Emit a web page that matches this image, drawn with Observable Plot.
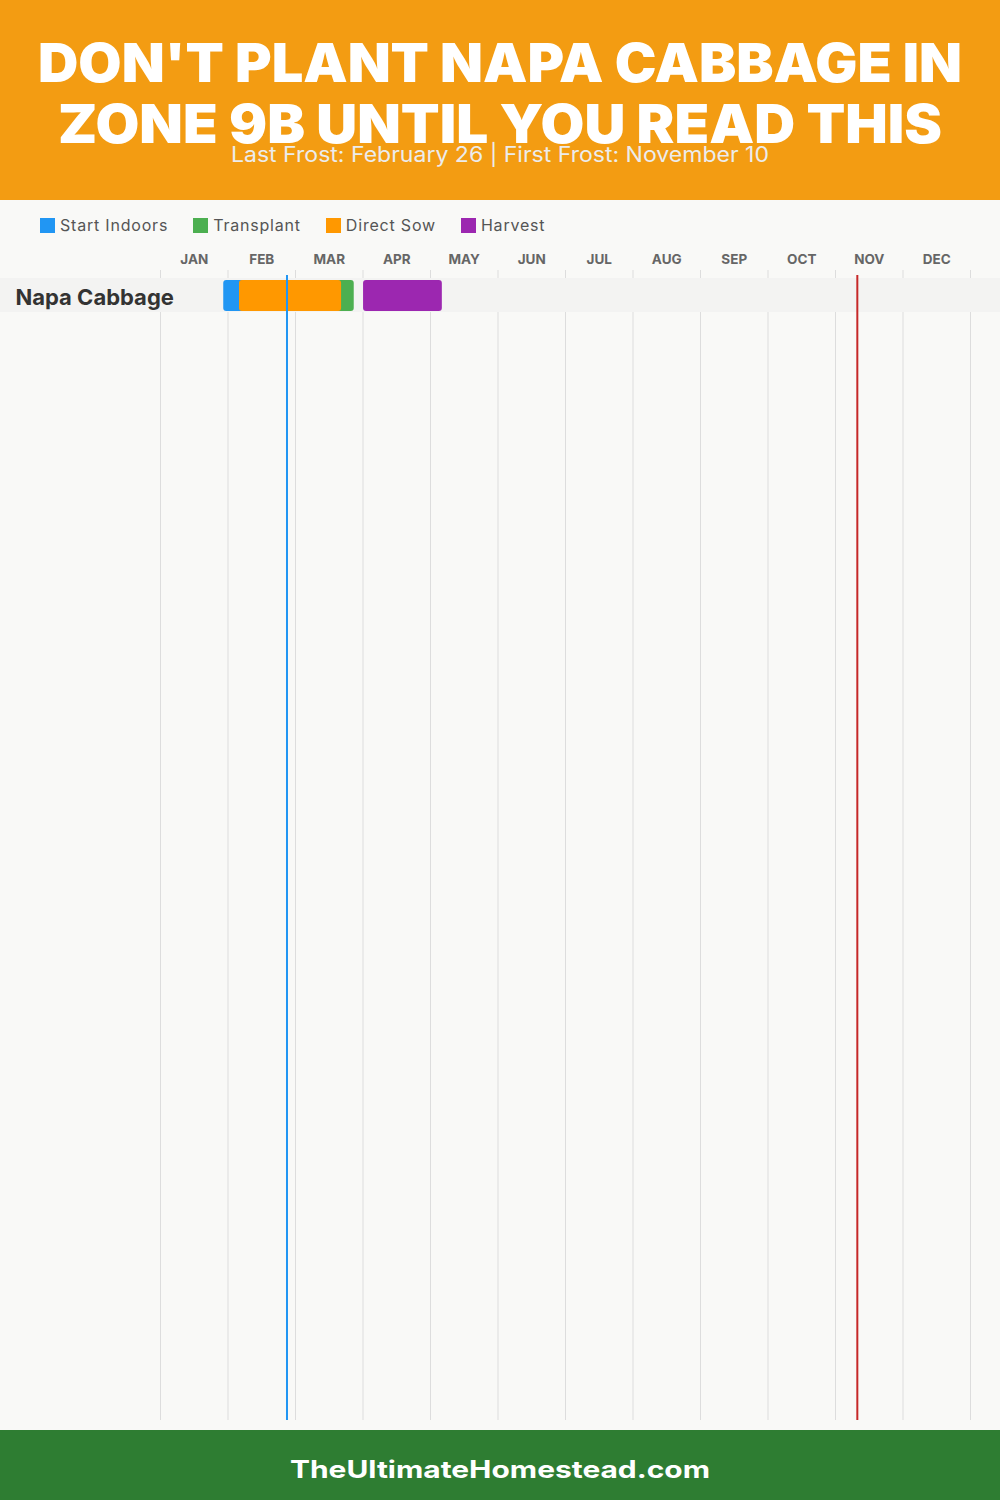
<!DOCTYPE html>
<html>
<head>
<meta charset="utf-8">
<script src="https://cdn.jsdelivr.net/npm/d3@7"></script>
<script src="https://cdn.jsdelivr.net/npm/@observablehq/plot@0.6"></script>
<style>
  html, body { margin: 0; padding: 0; }
  body { width: 1000px; height: 1500px; background: #f9f9f7; position: relative; overflow: hidden; font-family: Inter, "Open Sans", sans-serif; }
  #header { position: absolute; left: 0; top: 0; width: 1000px; height: 200px; background: #f39c12; }
  #legend { position: absolute; left: 40px; top: 215px; display: flex; align-items: center; font-size: 16px; color: #555; letter-spacing: 0.8px; }
  #legend .item { display: flex; align-items: center; margin-right: 25px; }
  #legend .sw { width: 15px; height: 15px; margin-right: 5px; }
  #chart { position: absolute; left: 0; top: 240px; }
  #footer { position: absolute; left: 0; top: 1430px; width: 1000px; height: 70px; background: #2e7d32; }
</style>
</head>
<body>
<div id="header"></div>
<div id="legend"></div>
<div id="chart"></div>
<div id="footer"></div>
<script>
// ---- data ----
const titleLines = ["DON'T PLANT NAPA CABBAGE IN", "ZONE 9B UNTIL YOU READ THIS"];
const subtitle = "Last Frost: February 26 | First Frost: November 10";
const footerText = "TheUltimateHomestead.com";
const months = ["JAN","FEB","MAR","APR","MAY","JUN","JUL","AUG","SEP","OCT","NOV","DEC"];
const crops = ["Napa Cabbage"];
const phases = ["Start Indoors", "Transplant", "Direct Sow", "Harvest"];
const phaseColors = ["#2196f3", "#4caf50", "#ff9800", "#9c27b0"];
// day of year (1-based)
const phaseStart = [28.5, 57, 35.6, 91.5];
const phaseEnd   = [45, 87.3, 81.6, 127];
const frostNames = ["Last Frost", "First Frost"];
const frostDays = [57, 314];
const frostColors = ["#2196f3", "#c62828"];

// ---- header ----
const hdr = d3.select("#header").append("svg").attr("width", 1000).attr("height", 200);
const titleX = [[38, 962], [58, 942]];
const titleY = [82, 143];
titleLines.forEach((t, i) => {
  hdr.append("text").attr("x", titleX[i][0]).attr("y", titleY[i])
    .attr("textLength", titleX[i][1] - titleX[i][0]).attr("lengthAdjust", "spacingAndGlyphs")
    .attr("fill", "#fff").attr("font-family", "Inter, sans-serif").attr("font-weight", 900)
    .attr("font-size", 53).text(t);
});
hdr.append("text").attr("x", 500).attr("y", 162).attr("text-anchor", "middle")
  .attr("fill", "#ececec").attr("font-family", "Inter, sans-serif").attr("font-weight", 400)
  .attr("font-size", 21).attr("textLength", 538).attr("lengthAdjust", "spacingAndGlyphs").text(subtitle);

// ---- footer ----
d3.select("#footer").append("svg").attr("width", 1000).attr("height", 70)
  .append("text").attr("x", 500).attr("y", 48).attr("text-anchor", "middle")
  .attr("textLength", 420).attr("lengthAdjust", "spacingAndGlyphs")
  .attr("fill", "#fff").attr("font-family", "Inter, sans-serif").attr("font-weight", 700)
  .attr("font-size", 24).text(footerText);

// ---- legend ----
const lg = d3.select("#legend");
phases.forEach((p, i) => {
  const it = lg.append("div").attr("class", "item");
  it.append("div").attr("class", "sw").style("background", phaseColors[i]);
  it.append("span").text(p);
});

// ---- chart ----
const bars = phases.map((p, i) => ({crop: crops[0], phase: p, start: phaseStart[i], end: phaseEnd[i], color: phaseColors[i]}));
const monthBounds = d3.range(0, 13).map(i => i * 365 / 12);
const monthMids = months.map((m, i) => ({m, x: (i + 0.5) * 365 / 12}));
const frosts = frostNames.map((n, i) => ({n, x: frostDays[i], c: frostColors[i]}));

const chart = Plot.plot({
  width: 1000,
  height: 1190,
  marginLeft: 160,
  marginRight: 30,
  marginTop: 30,
  marginBottom: 10,
  style: {background: "transparent", fontFamily: "Inter, sans-serif", overflow: "visible"},
  x: {domain: [0, 365], axis: null},
  y: {type: "band", domain: crops, range: [38, 72], padding: 0, axis: null},
  marks: [
    Plot.ruleX(monthBounds, {x: d => d, stroke: "#dddddd", strokeWidth: 1}),
    Plot.barX(crops, {x1: () => 0, x2: () => 365, y: d => d, fill: "#f3f3f2", insetLeft: -160, insetRight: -30}),
    Plot.barX(bars, {x1: "start", x2: "end", y: "crop", fill: "color", rx: 3, insetTop: 2, insetBottom: 1}),
    Plot.ruleX(frosts, {x: "x", stroke: "c", strokeWidth: 2, insetTop: 5}),
    Plot.text(monthMids, {x: "x", text: "m", frameAnchor: "top", lineAnchor: "middle", dy: -11, fill: "#666", fontWeight: 700, fontSize: 13.5, letterSpacing: 0.5}),
    Plot.text(crops, {y: d => d, text: d => d, frameAnchor: "left", textAnchor: "start", dx: -145, dy: 2, fill: "#333", fontWeight: 700, fontSize: 22, letterSpacing: 0.8})
  ]
});
document.getElementById("chart").appendChild(chart);
</script>
</body>
</html>
